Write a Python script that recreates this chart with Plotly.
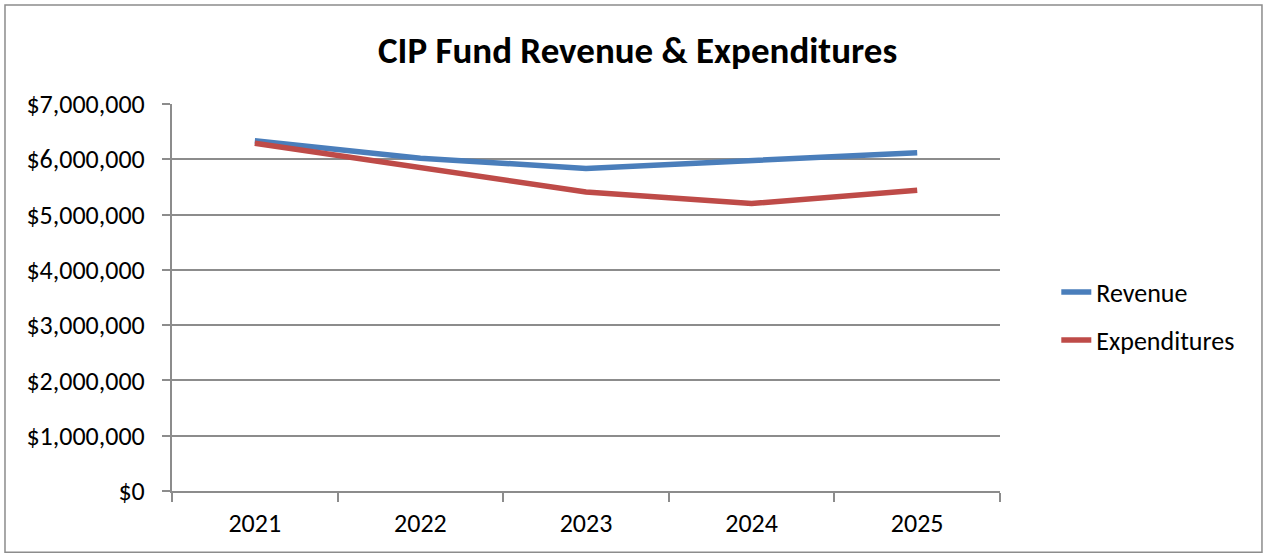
import plotly.graph_objs as go

years = ["2021", "2022", "2023", "2024", "2025"]
revenue = [6335000, 6020000, 5835000, 5970000, 6120000]
expenditures = [6290000, 5840000, 5410000, 5200000, 5440000]

y_ticks = [0, 1000000, 2000000, 3000000, 4000000, 5000000, 6000000, 7000000]
y_labels = ["$0", "$1,000,000", "$2,000,000", "$3,000,000", "$4,000,000",
            "$5,000,000", "$6,000,000", "$7,000,000"]

font_name = "Carlito, Lato, Open Sans, sans-serif"

fig = go.Figure()
fig.add_trace(go.Scatter(x=years, y=revenue, mode="lines", name="Revenue",
                         line=dict(color="#4A7EBB", width=5.5), legend="legend"))
fig.add_trace(go.Scatter(x=years, y=expenditures, mode="lines", name="Expenditures",
                         line=dict(color="#BE4B48", width=5.5), legend="legend2"))

legend_style = dict(xanchor="left", yanchor="middle", font=dict(size=26),
                    bgcolor="rgba(0,0,0,0)", borderwidth=0)

fig.update_layout(
    width=1266, height=557,
    margin=dict(l=172, r=266, t=104, b=66),
    paper_bgcolor="white", plot_bgcolor="white",
    font=dict(family=font_name, size=26, color="#000000"),
    title=dict(text="<b>CIP Fund Revenue & Expenditures</b>", x=0.5036, xanchor="center",
               y=0.91, yanchor="middle", font=dict(size=37)),
    legend=dict(x=1.068, y=0.514, **legend_style),
    legend2=dict(x=1.068, y=0.390, **legend_style),
    showlegend=True,
)
fig.update_xaxes(type="category", range=[-0.5, 4.5], tickson="boundaries",
                 ticks="outside", ticklen=9, tickcolor="#8c8c8c", tickwidth=2,
                 showline=True, linecolor="#8c8c8c", linewidth=2,
                 showgrid=False, zeroline=False, ticklabelstandoff=8)
fig.update_yaxes(range=[0, 7000000], tickvals=y_ticks, ticktext=y_labels,
                 ticks="outside", ticklen=8, tickcolor="#8c8c8c", tickwidth=2,
                 showline=True, linecolor="#8c8c8c", linewidth=2,
                 showgrid=True, gridcolor="#8c8c8c", gridwidth=2,
                 zeroline=False, ticklabelstandoff=12)

fig.add_shape(type="rect", xref="paper", yref="paper",
              x0=-0.2017, x1=1.3164, y0=-0.158, y1=1.2558,
              line=dict(color="#8c8c8c", width=1.5), layer="below")

fig.write_html("out.html", config={"displayModeBar": False},
               post_script="document.body.style.margin='0';")
